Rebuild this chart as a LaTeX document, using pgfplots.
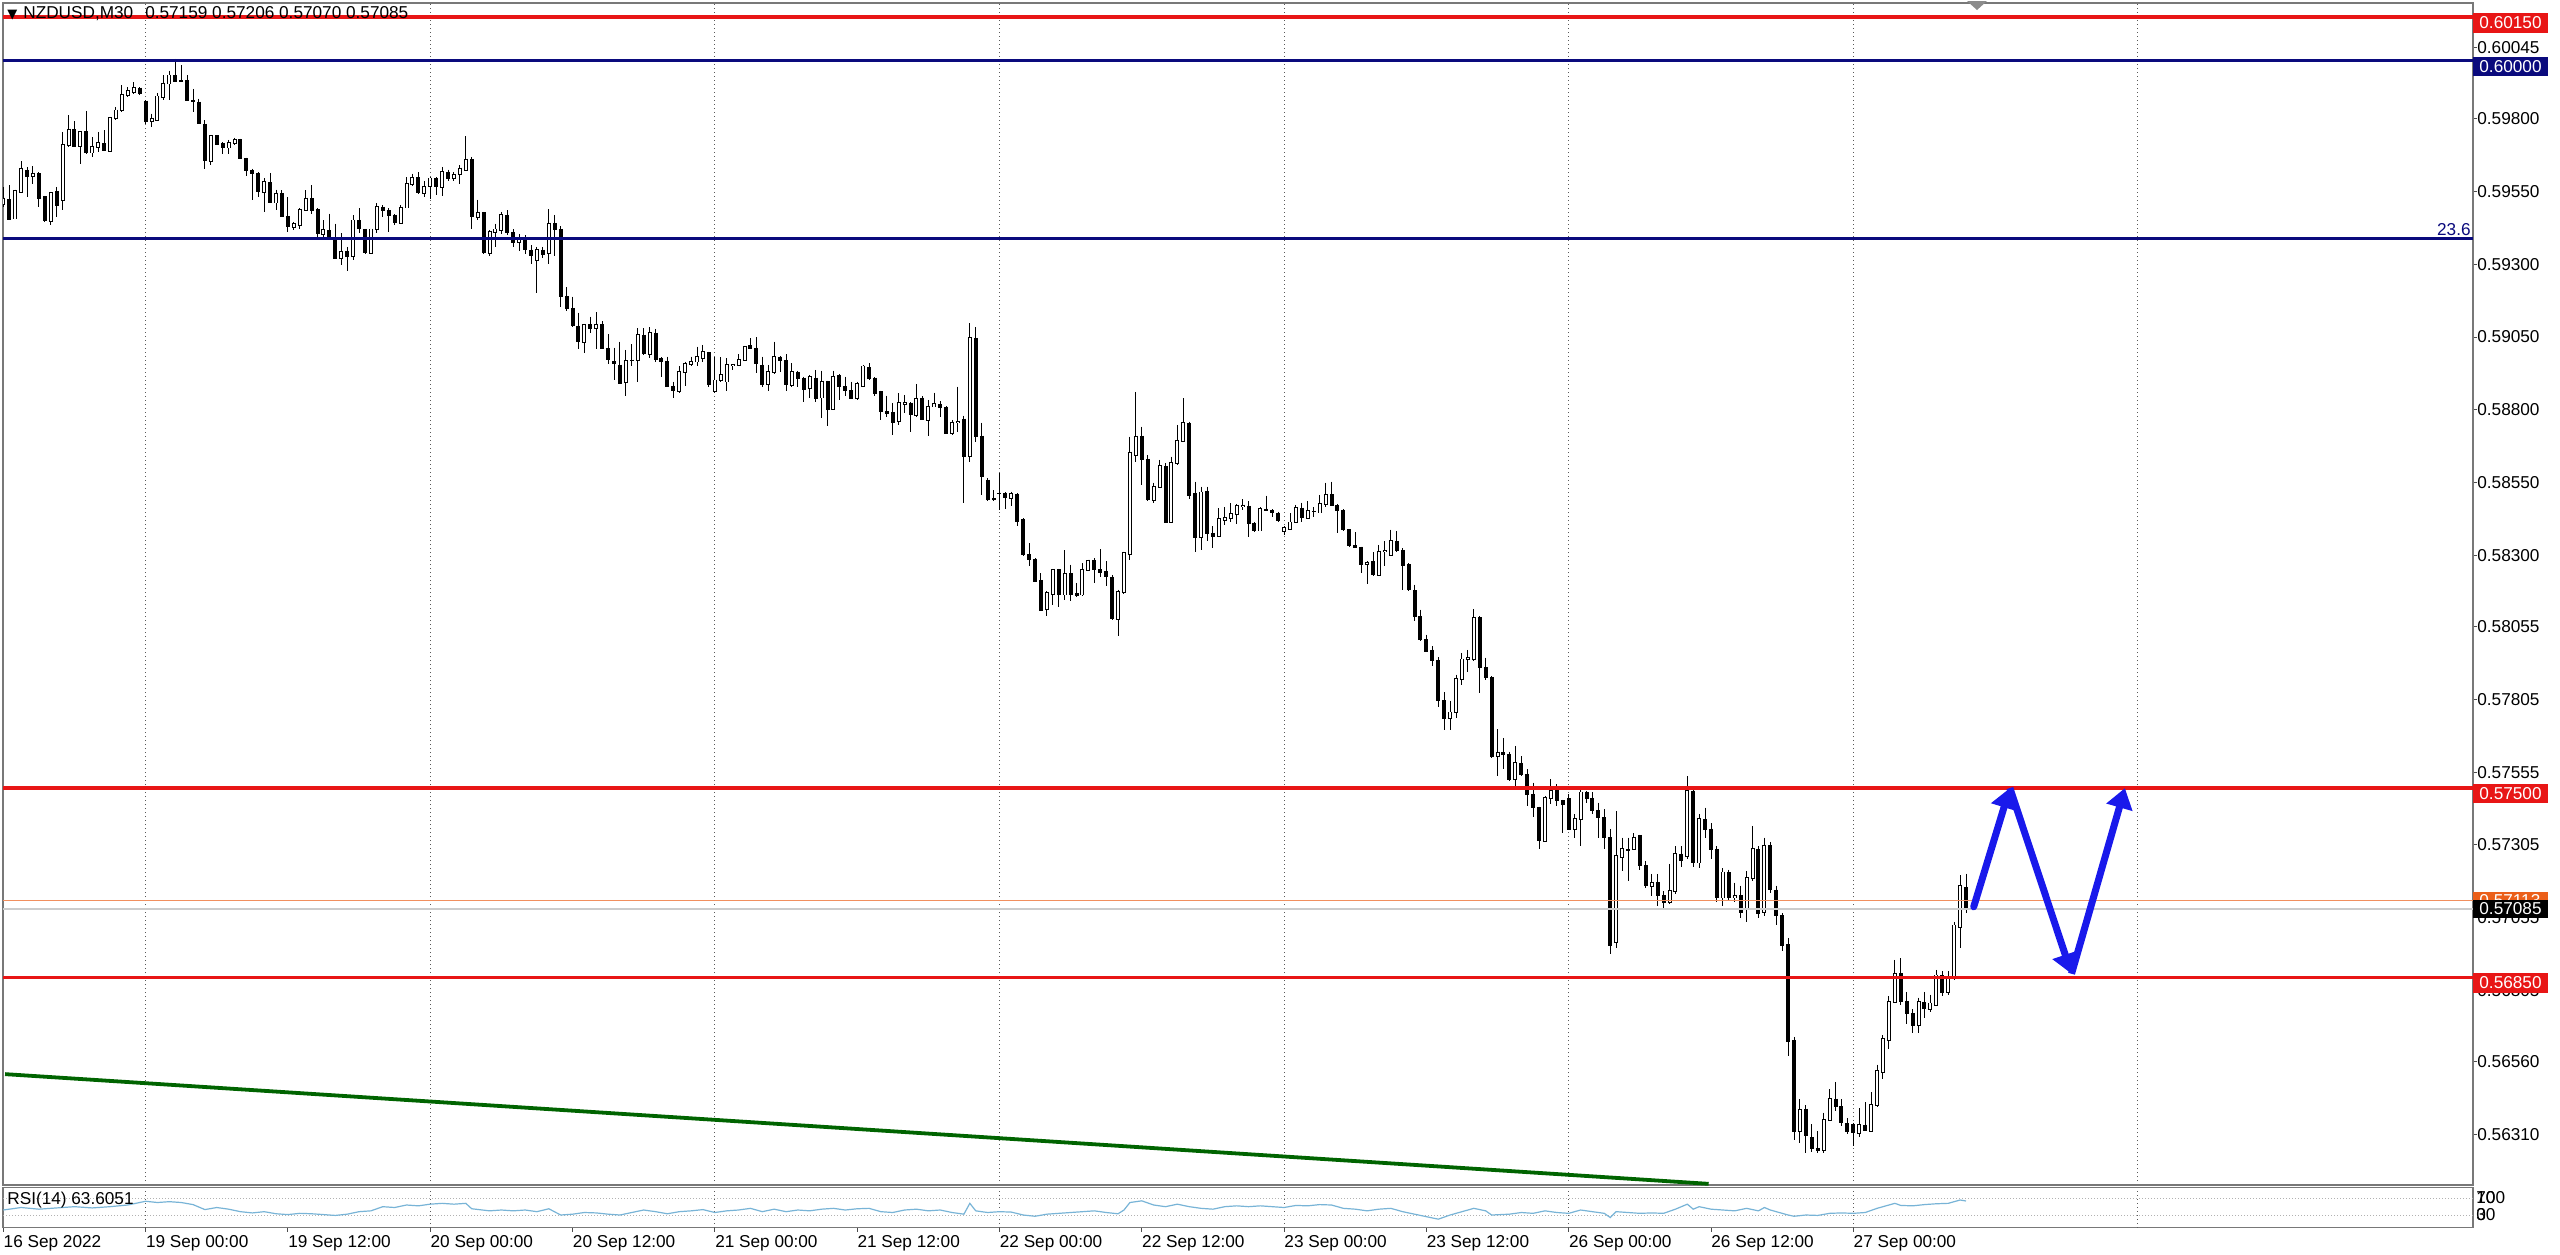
\documentclass[border=0pt]{standalone}
\usepackage{fontspec}
\setmainfont{Liberation Sans}
\newfontfamily\symf{DejaVu Sans}
\usepackage{pgfplots}
\usepackage{pgfplotstable}
\pgfplotsset{compat=1.18}
\usetikzlibrary{arrows.meta}

\definecolor{lvlred}{RGB}{232,22,22}
\definecolor{lvlnavy}{RGB}{10,10,125}
\definecolor{trendgreen}{RGB}{0,100,0}
\definecolor{arrowblue}{RGB}{25,25,235}
\definecolor{rsiblue}{RGB}{120,180,215}
\definecolor{askorange}{RGB}{235,95,25}
\definecolor{frame}{RGB}{120,120,120}

\newcommand\pf{\fontsize{8.6}{10}\selectfont}

% NZDUSD M30, bar index i (0 = 16 Sep 12:00), open high low close
\pgfplotstableread{
i o h l c
0 0.59506 0.59566 0.59497 0.59526
1 0.59522 0.59572 0.59451 0.59454
2 0.59457 0.59557 0.59455 0.59551
3 0.59549 0.59654 0.59545 0.59629
4 0.59623 0.59635 0.59532 0.59603
5 0.59603 0.59637 0.59577 0.59612
6 0.59612 0.59617 0.59497 0.59526
7 0.59532 0.59535 0.59446 0.59449
8 0.59449 0.59549 0.59434 0.59545
9 0.59549 0.59566 0.59463 0.59503
10 0.59520 0.59755 0.59488 0.59709
11 0.59709 0.59812 0.59703 0.59763
12 0.59763 0.59791 0.59703 0.59706
13 0.59706 0.59758 0.59646 0.59755
14 0.59757 0.59827 0.59680 0.59684
15 0.59684 0.59738 0.59669 0.59703
16 0.59703 0.59755 0.59686 0.59717
17 0.59715 0.59760 0.59688 0.59690
18 0.59690 0.59806 0.59686 0.59803
19 0.59804 0.59841 0.59795 0.59829
20 0.59829 0.59915 0.59823 0.59883
21 0.59881 0.59909 0.59875 0.59895
22 0.59892 0.59926 0.59886 0.59907
23 0.59906 0.59909 0.59881 0.59886
24 0.59861 0.59863 0.59783 0.59791
25 0.59791 0.59818 0.59772 0.59800
26 0.59795 0.59889 0.59792 0.59877
27 0.59875 0.59949 0.59863 0.59921
28 0.59921 0.59966 0.59863 0.59949
29 0.59949 0.60006 0.59926 0.59929
30 0.59931 0.59984 0.59926 0.59929
31 0.59932 0.59949 0.59861 0.59863
32 0.59863 0.59903 0.59823 0.59858
33 0.59858 0.59869 0.59781 0.59783
34 0.59781 0.59795 0.59629 0.59655
35 0.59655 0.59743 0.59640 0.59740
36 0.59742 0.59743 0.59709 0.59712
37 0.59715 0.59720 0.59680 0.59701
38 0.59701 0.59728 0.59680 0.59717
39 0.59717 0.59735 0.59711 0.59728
40 0.59728 0.59732 0.59661 0.59663
41 0.59663 0.59667 0.59603 0.59623
42 0.59621 0.59629 0.59520 0.59612
43 0.59612 0.59617 0.59532 0.59549
44 0.59549 0.59595 0.59480 0.59583
45 0.59581 0.59614 0.59509 0.59511
46 0.59512 0.59557 0.59486 0.59543
47 0.59543 0.59555 0.59461 0.59463
48 0.59463 0.59532 0.59412 0.59429
49 0.59429 0.59446 0.59417 0.59438
50 0.59434 0.59492 0.59420 0.59486
51 0.59486 0.59555 0.59484 0.59526
52 0.59526 0.59572 0.59474 0.59486
53 0.59488 0.59492 0.59394 0.59406
54 0.59404 0.59451 0.59394 0.59417
55 0.59417 0.59474 0.59386 0.59389
56 0.59391 0.59440 0.59318 0.59320
57 0.59320 0.59406 0.59297 0.59343
58 0.59343 0.59360 0.59278 0.59328
59 0.59328 0.59469 0.59314 0.59451
60 0.59451 0.59492 0.59408 0.59423
61 0.59420 0.59422 0.59335 0.59339
62 0.59339 0.59423 0.59335 0.59420
63 0.59420 0.59509 0.59406 0.59497
64 0.59497 0.59503 0.59463 0.59484
65 0.59484 0.59492 0.59412 0.59469
66 0.59469 0.59472 0.59434 0.59442
67 0.59442 0.59503 0.59440 0.59495
68 0.59495 0.59600 0.59492 0.59577
69 0.59577 0.59612 0.59568 0.59597
70 0.59597 0.59617 0.59543 0.59545
71 0.59545 0.59587 0.59532 0.59566
72 0.59568 0.59600 0.59526 0.59595
73 0.59595 0.59600 0.59537 0.59566
74 0.59566 0.59635 0.59534 0.59617
75 0.59617 0.59625 0.59587 0.59595
76 0.59595 0.59617 0.59587 0.59606
77 0.59609 0.59640 0.59575 0.59629
78 0.59625 0.59740 0.59623 0.59660
79 0.59660 0.59669 0.59421 0.59463
80 0.59463 0.59522 0.59451 0.59477
81 0.59477 0.59480 0.59337 0.59339
82 0.59339 0.59417 0.59328 0.59412
83 0.59412 0.59440 0.59360 0.59420
84 0.59417 0.59480 0.59405 0.59469
85 0.59469 0.59485 0.59400 0.59410
86 0.59410 0.59420 0.59360 0.59375
87 0.59375 0.59405 0.59345 0.59390
88 0.59390 0.59400 0.59335 0.59349
89 0.59349 0.59365 0.59300 0.59330
90 0.59315 0.59360 0.59203 0.59349
91 0.59349 0.59360 0.59320 0.59335
92 0.59338 0.59490 0.59300 0.59440
93 0.59440 0.59470 0.59330 0.59420
94 0.59420 0.59430 0.59155 0.59189
95 0.59189 0.59221 0.59140 0.59149
96 0.59149 0.59189 0.59086 0.59088
97 0.59088 0.59134 0.59008 0.59034
98 0.59034 0.59095 0.58994 0.59092
99 0.59092 0.59120 0.59063 0.59080
100 0.59080 0.59135 0.59008 0.59092
101 0.59092 0.59105 0.59009 0.59011
102 0.59011 0.59060 0.58958 0.58974
103 0.58966 0.59014 0.58901 0.58958
104 0.58954 0.59034 0.58888 0.58891
105 0.58894 0.59006 0.58848 0.58968
106 0.58971 0.59025 0.58949 0.58968
107 0.58971 0.59080 0.58897 0.59057
108 0.59057 0.59080 0.58990 0.58992
109 0.58992 0.59083 0.58977 0.59063
110 0.59063 0.59078 0.58966 0.58971
111 0.58977 0.58980 0.58914 0.58966
112 0.58966 0.58983 0.58878 0.58880
113 0.58882 0.58897 0.58840 0.58866
114 0.58863 0.58949 0.58859 0.58931
115 0.58931 0.58966 0.58882 0.58958
116 0.58958 0.58983 0.58951 0.58966
117 0.58966 0.59017 0.58951 0.58981
118 0.58977 0.59023 0.58966 0.58999
119 0.58997 0.59000 0.58880 0.58886
120 0.58863 0.58983 0.58859 0.58901
121 0.58901 0.58981 0.58897 0.58920
122 0.58897 0.58977 0.58863 0.58953
123 0.58953 0.58957 0.58937 0.58955
124 0.58953 0.58991 0.58951 0.58971
125 0.58971 0.59020 0.58969 0.59017
126 0.59020 0.59046 0.59009 0.59012
127 0.59012 0.59049 0.58926 0.58958
128 0.58954 0.58983 0.58880 0.58886
129 0.58888 0.58954 0.58863 0.58929
130 0.58929 0.59034 0.58923 0.58981
131 0.58981 0.58985 0.58931 0.58969
132 0.58968 0.58991 0.58866 0.58886
133 0.58886 0.58960 0.58878 0.58929
134 0.58929 0.58935 0.58880 0.58909
135 0.58909 0.58914 0.58828 0.58871
136 0.58874 0.58920 0.58840 0.58912
137 0.58909 0.58937 0.58828 0.58840
138 0.58842 0.58935 0.58771 0.58897
139 0.58897 0.58900 0.58745 0.58802
140 0.58802 0.58935 0.58800 0.58914
141 0.58917 0.58923 0.58834 0.58880
142 0.58880 0.58914 0.58846 0.58866
143 0.58866 0.58897 0.58838 0.58840
144 0.58840 0.58897 0.58834 0.58889
145 0.58882 0.58954 0.58880 0.58949
146 0.58945 0.58960 0.58903 0.58909
147 0.58909 0.58912 0.58846 0.58855
148 0.58863 0.58866 0.58765 0.58794
149 0.58794 0.58849 0.58777 0.58788
150 0.58791 0.58823 0.58714 0.58756
151 0.58760 0.58857 0.58748 0.58823
152 0.58820 0.58851 0.58788 0.58823
153 0.58823 0.58826 0.58725 0.58783
154 0.58783 0.58889 0.58777 0.58836
155 0.58840 0.58846 0.58765 0.58768
156 0.58765 0.58834 0.58711 0.58811
157 0.58811 0.58859 0.58809 0.58820
158 0.58817 0.58829 0.58777 0.58809
159 0.58809 0.58812 0.58717 0.58720
160 0.58720 0.58765 0.58714 0.58756
161 0.58756 0.58880 0.58725 0.58757
162 0.58768 0.58780 0.58480 0.58640
163 0.58640 0.59097 0.58620 0.59046
164 0.59046 0.59083 0.58690 0.58708
165 0.58710 0.58756 0.58508 0.58571
166 0.58559 0.58565 0.58488 0.58491
167 0.58494 0.58523 0.58485 0.58490
168 0.58514 0.58582 0.58456 0.58513
169 0.58513 0.58516 0.58459 0.58500
170 0.58496 0.58519 0.58468 0.58510
171 0.58510 0.58513 0.58401 0.58416
172 0.58422 0.58428 0.58296 0.58302
173 0.58302 0.58342 0.58262 0.58287
174 0.58287 0.58290 0.58208 0.58210
175 0.58214 0.58239 0.58107 0.58111
176 0.58115 0.58176 0.58090 0.58170
177 0.58168 0.58253 0.58130 0.58250
178 0.58250 0.58253 0.58122 0.58165
179 0.58165 0.58317 0.58147 0.58237
180 0.58237 0.58268 0.58142 0.58165
181 0.58168 0.58205 0.58158 0.58161
182 0.58165 0.58273 0.58161 0.58250
183 0.58250 0.58285 0.58245 0.58282
184 0.58282 0.58290 0.58205 0.58250
185 0.58250 0.58321 0.58227 0.58241
186 0.58245 0.58279 0.58193 0.58227
187 0.58225 0.58233 0.58078 0.58081
188 0.58081 0.58182 0.58024 0.58173
189 0.58173 0.58313 0.58168 0.58308
190 0.58305 0.58708 0.58285 0.58653
191 0.58645 0.58862 0.58619 0.58708
192 0.58710 0.58742 0.58542 0.58630
193 0.58630 0.58645 0.58488 0.58493
194 0.58491 0.58550 0.58479 0.58536
195 0.58534 0.58628 0.58531 0.58607
196 0.58605 0.58616 0.58410 0.58413
197 0.58413 0.58639 0.58411 0.58616
198 0.58616 0.58748 0.58611 0.58694
199 0.58694 0.58839 0.58691 0.58754
200 0.58754 0.58759 0.58493 0.58504
201 0.58511 0.58553 0.58313 0.58362
202 0.58362 0.58536 0.58319 0.58516
203 0.58519 0.58536 0.58348 0.58376
204 0.58376 0.58399 0.58325 0.58365
205 0.58365 0.58462 0.58362 0.58424
206 0.58422 0.58465 0.58405 0.58428
207 0.58428 0.58479 0.58416 0.58442
208 0.58442 0.58477 0.58408 0.58470
209 0.58470 0.58493 0.58456 0.58471
210 0.58468 0.58485 0.58362 0.58408
211 0.58408 0.58413 0.58380 0.58385
212 0.58385 0.58465 0.58382 0.58459
213 0.58459 0.58505 0.58451 0.58454
214 0.58454 0.58459 0.58433 0.58447
215 0.58445 0.58450 0.58416 0.58420
216 0.58382 0.58401 0.58370 0.58393
217 0.58390 0.58445 0.58388 0.58413
218 0.58413 0.58473 0.58411 0.58462
219 0.58462 0.58481 0.58413 0.58428
220 0.58428 0.58485 0.58424 0.58451
221 0.58451 0.58465 0.58431 0.58450
222 0.58447 0.58508 0.58445 0.58477
223 0.58477 0.58550 0.58465 0.58508
224 0.58508 0.58553 0.58468 0.58470
225 0.58470 0.58477 0.58376 0.58454
226 0.58454 0.58459 0.58383 0.58388
227 0.58388 0.58390 0.58328 0.58333
228 0.58333 0.58379 0.58325 0.58328
229 0.58328 0.58330 0.58239 0.58268
230 0.58271 0.58279 0.58202 0.58275
231 0.58279 0.58310 0.58230 0.58233
232 0.58233 0.58336 0.58230 0.58313
233 0.58313 0.58348 0.58262 0.58314
234 0.58302 0.58388 0.58298 0.58348
235 0.58348 0.58382 0.58313 0.58317
236 0.58317 0.58325 0.58182 0.58264
237 0.58268 0.58273 0.58177 0.58182
238 0.58179 0.58199 0.58073 0.58090
239 0.58090 0.58113 0.58004 0.58010
240 0.58010 0.58027 0.57967 0.57970
241 0.57974 0.57987 0.57919 0.57939
242 0.57939 0.57950 0.57780 0.57800
243 0.57800 0.57830 0.57700 0.57740
244 0.57740 0.57800 0.57700 0.57760
245 0.57760 0.57890 0.57740 0.57876
246 0.57876 0.57965 0.57856 0.57942
247 0.57942 0.57975 0.57900 0.57948
248 0.57942 0.58114 0.57936 0.58085
249 0.58085 0.58091 0.57828 0.57914
250 0.57914 0.57948 0.57870 0.57880
251 0.57880 0.57885 0.57605 0.57610
252 0.57610 0.57702 0.57542 0.57622
253 0.57622 0.57673 0.57565 0.57616
254 0.57616 0.57625 0.57525 0.57530
255 0.57530 0.57645 0.57507 0.57585
256 0.57585 0.57610 0.57542 0.57548
257 0.57548 0.57565 0.57439 0.57479
258 0.57479 0.57519 0.57399 0.57433
259 0.57433 0.57436 0.57290 0.57319
260 0.57319 0.57473 0.57315 0.57467
261 0.57467 0.57530 0.57445 0.57490
262 0.57496 0.57513 0.57439 0.57456
263 0.57456 0.57460 0.57347 0.57445
264 0.57464 0.57479 0.57356 0.57359
265 0.57359 0.57410 0.57330 0.57393
266 0.57393 0.57502 0.57302 0.57485
267 0.57485 0.57490 0.57450 0.57465
268 0.57465 0.57485 0.57410 0.57422
269 0.57422 0.57450 0.57330 0.57399
270 0.57399 0.57428 0.57290 0.57330
271 0.57330 0.57360 0.56930 0.56958
272 0.56970 0.57420 0.56950 0.57267
273 0.57262 0.57330 0.57215 0.57290
274 0.57290 0.57330 0.57180 0.57285
275 0.57290 0.57345 0.57288 0.57330
276 0.57338 0.57340 0.57220 0.57233
277 0.57233 0.57250 0.57155 0.57164
278 0.57164 0.57205 0.57130 0.57175
279 0.57175 0.57205 0.57095 0.57130
280 0.57130 0.57145 0.57080 0.57107
281 0.57107 0.57240 0.57100 0.57147
282 0.57147 0.57300 0.57135 0.57273
283 0.57273 0.57300 0.57230 0.57251
284 0.57267 0.57540 0.57258 0.57490
285 0.57490 0.57500 0.57230 0.57244
286 0.57244 0.57410 0.57225 0.57393
287 0.57393 0.57433 0.57330 0.57359
288 0.57359 0.57380 0.57255 0.57290
289 0.57290 0.57300 0.57110 0.57124
290 0.57124 0.57225 0.57095 0.57210
291 0.57210 0.57220 0.57115 0.57124
292 0.57124 0.57175 0.57110 0.57130
293 0.57130 0.57165 0.57055 0.57073
294 0.57085 0.57215 0.57040 0.57190
295 0.57190 0.57370 0.57180 0.57290
296 0.57290 0.57300 0.57055 0.57070
297 0.57073 0.57330 0.57060 0.57302
298 0.57302 0.57315 0.57140 0.57150
299 0.57150 0.57165 0.57030 0.57062
300 0.57062 0.57070 0.56940 0.56958
301 0.56962 0.56985 0.56580 0.56628
302 0.56633 0.56645 0.56290 0.56321
303 0.56321 0.56430 0.56280 0.56393
304 0.56397 0.56410 0.56245 0.56305
305 0.56298 0.56345 0.56250 0.56262
306 0.56262 0.56320 0.56245 0.56256
307 0.56256 0.56385 0.56245 0.56359
308 0.56359 0.56465 0.56355 0.56431
309 0.56431 0.56490 0.56390 0.56405
310 0.56405 0.56430 0.56340 0.56351
311 0.56347 0.56365 0.56310 0.56319
312 0.56344 0.56350 0.56270 0.56316
313 0.56316 0.56400 0.56300 0.56342
314 0.56342 0.56420 0.56320 0.56324
315 0.56321 0.56455 0.56318 0.56410
316 0.56410 0.56550 0.56405 0.56527
317 0.56525 0.56650 0.56500 0.56637
318 0.56633 0.56785 0.56605 0.56765
319 0.56765 0.56910 0.56762 0.56862
320 0.56862 0.56915 0.56755 0.56767
321 0.56767 0.56800 0.56690 0.56725
322 0.56725 0.56740 0.56660 0.56683
323 0.56685 0.56780 0.56660 0.56765
324 0.56763 0.56800 0.56710 0.56742
325 0.56742 0.56790 0.56730 0.56760
326 0.56753 0.56875 0.56750 0.56856
327 0.56856 0.56870 0.56785 0.56799
328 0.56799 0.56870 0.56790 0.56850
329 0.56850 0.57040 0.56840 0.57028
330 0.57022 0.57200 0.56950 0.57165
331 0.57159 0.57206 0.57070 0.57085
}\candles

% RSI(14)
\pgfplotstableread{
i r
0 42
3 48
6 44
9 47
12 50
15 47
18 50
21 54
24 63
26 60
28 62
30 60
32 55
34 43
36 48
38 44
40 38
42 35
44 38
46 33
48 31
50 34
52 33
54 31
56 29
58 32
60 38
62 40
64 50
66 48
68 54
70 52
72 56
74 58
76 56
78 58
79 45
82 40
84 42
86 40
88 42
90 38
92 45
94 30
96 32
98 36
100 35
102 32
104 30
106 36
108 42
110 38
112 33
114 38
116 40
118 43
120 36
122 40
124 42
126 46
128 38
130 44
132 38
134 42
136 40
138 44
140 46
142 42
144 45
146 46
148 38
150 36
152 42
154 44
156 40
158 42
160 36
162 32
163 58
164 40
166 36
168 38
170 37
172 30
174 27
176 32
178 34
180 36
184 40
186 36
188 33
189 42
190 60
192 64
194 54
196 50
198 56
200 50
202 46
204 44
206 50
208 52
210 50
212 52
214 50
216 48
218 53
220 52
222 55
224 54
226 46
228 44
230 40
232 44
234 46
236 38
238 32
240 26
242 20
244 30
246 38
248 46
250 40
251 30
254 32
256 36
258 34
260 40
262 36
264 34
266 42
268 38
270 34
271 24
272 38
274 36
276 34
278 35
280 34
282 44
284 56
285 44
286 50
288 44
290 42
292 40
294 46
296 40
297 48
298 42
300 34
301 30
302 27
304 30
306 29
308 34
310 35
312 34
314 36
316 46
318 54
319 58
320 53
322 52
324 55
326 57
328 58
329 62
330 66
331 63.6
}\rsi

\begin{document}
\begin{tikzpicture}
\fill[white] (0,0) rectangle (1280pt,-627pt);
\useasboundingbox (0,0) rectangle (1280pt,-627pt);

% ---------------- price panel ----------------
\begin{axis}[
  at={(1.5pt,-1.5pt)}, anchor=north west,
  width=1235pt, height=591pt, scale only axis,
  xmin=-0.05, xmax=416.5, ymin=0.56136, ymax=0.60198,
  axis line style={draw=frame, line width=0.6pt},
  xtick={24,72,...,360}, xticklabels={}, xmajorgrids,
  major x tick style={draw=none},
  x grid style={black!65, dash pattern=on 0.5pt off 1.5pt, line width=0.5pt},
  scaled y ticks=false,
  ytick={0.56310,0.56560,0.56805,0.57055,0.57305,0.57555,0.57805,0.58055,0.58300,0.58550,0.58800,0.59050,0.59300,0.59550,0.59800,0.60045},
  yticklabels={0.56310,0.56560,0.56805,0.57055,0.57305,0.57555,0.57805,0.58055,0.58300,0.58550,0.58800,0.59050,0.59300,0.59550,0.59800,0.60045},
  ytick pos=right, yticklabel pos=right,
  tick align=outside, major tick length=2pt,
  major y tick style={black!70, line width=0.5pt},
  yticklabel style={font=\pf, anchor=west, inner sep=0pt},
]
% wicks
\addplot[draw=none, mark=none, forget plot,
  error bars/.cd, y dir=minus, y explicit, error mark=none,
  error bar style={draw=black, line width=0.5pt}]
  table[x=i, y=h, y error minus expr=\thisrow{h}-\thisrow{l}] {\candles};
% falling bars: solid black (rising ones parked under the axis, length 0)
\addplot[draw=none, mark=none, forget plot,
  error bars/.cd, y dir=minus, y explicit, error mark=none,
  error bar style={draw=black, line width=2pt}]
  table[x=i, y expr={\thisrow{c}<\thisrow{o} ? \thisrow{o}+0.000015 : 0.559},
        y error minus expr={\thisrow{c}<\thisrow{o} ? \thisrow{o}-\thisrow{c}+0.00003 : 0}] {\candles};
% rising bars: black outline, white inside
\addplot[draw=none, mark=none, forget plot,
  error bars/.cd, y dir=minus, y explicit, error mark=none,
  error bar style={draw=black, line width=2pt}]
  table[x=i, y expr={\thisrow{c}<\thisrow{o} ? 0.559 : \thisrow{c}+0.00003},
        y error minus expr={\thisrow{c}<\thisrow{o} ? 0 : \thisrow{c}-\thisrow{o}+0.00006}] {\candles};
\addplot[draw=none, mark=none, forget plot,
  error bars/.cd, y dir=minus, y explicit, error mark=none,
  error bar style={draw=white, line width=1pt}]
  table[x=i, y expr={\thisrow{c}<\thisrow{o} ? 0.559 : \thisrow{c}},
        y error minus expr={\thisrow{c}<\thisrow{o} ? 0 : \thisrow{c}-\thisrow{o}}] {\candles};

% levels
\addplot[lvlred, line width=1.7pt] coordinates {(-1,0.6015)(420,0.6015)};
\addplot[lvlnavy, line width=1.5pt] coordinates {(-1,0.6000)(420,0.6000)};
\addplot[lvlnavy, line width=1.5pt] coordinates {(-1,0.59387)(420,0.59387)};
\addplot[lvlred, line width=1.7pt] coordinates {(-1,0.5750)(420,0.5750)};
\addplot[lvlred, line width=1.7pt] coordinates {(-1,0.5685)(420,0.5685)};
\addplot[black!20, line width=0.8pt] coordinates {(-1,0.57085)(420,0.57085)};
\addplot[askorange!70, line width=0.5pt] coordinates {(-1,0.57113)(420,0.57113)};

% trend line
\addplot[trendgreen, line width=1.9pt] coordinates {(0.3,0.56517)(287.6,0.56140)};

% projected path
\addplot[arrowblue, line width=3.5pt, line cap=round, -{Triangle[width=13pt,length=10pt]}]
  coordinates {(332.3,0.57092)(338.4,0.57500)};
\addplot[arrowblue, line width=3.5pt, -{Triangle[width=13pt,length=10pt]}]
  coordinates {(338.4,0.57500)(348.8,0.56862)};
\addplot[arrowblue, line width=3.5pt, -{Triangle[width=13pt,length=10pt]}]
  coordinates {(348.8,0.56862)(357.8,0.57500)};
\end{axis}

% ---------------- RSI panel ----------------
\begin{axis}[
  at={(1.5pt,-593.75pt)}, anchor=north west,
  width=1235pt, height=20pt, scale only axis,
  xmin=-0.05, xmax=416.5, ymin=0, ymax=96,
  axis line style={draw=frame, line width=0.6pt},
  ytick=\empty,
  xtick={0,24,...,312},
  xticklabels={16 Sep 2022,19 Sep 00:00,19 Sep 12:00,20 Sep 00:00,20 Sep 12:00,21 Sep 00:00,21 Sep 12:00,22 Sep 00:00,22 Sep 12:00,23 Sep 00:00,23 Sep 12:00,26 Sep 00:00,26 Sep 12:00,27 Sep 00:00},
  xtick pos=bottom, tick align=outside, major tick length=2pt,
  major x tick style={black!70, line width=0.5pt},
  xticklabel style={font=\pf, anchor=north west, inner sep=0pt, yshift=-2pt},
  extra x ticks={24,72,...,360}, extra x tick labels={},
  extra x tick style={xmajorgrids=true, major tick length=0pt},
  x grid style={black!65, dash pattern=on 0.5pt off 1.5pt, line width=0.5pt},
]
\addplot[black!30, dash pattern=on 0.5pt off 1pt, line width=0.4pt] coordinates {(-1,70)(420,70)};
\addplot[black!30, dash pattern=on 0.5pt off 1pt, line width=0.4pt] coordinates {(-1,30)(420,30)};
\addplot[rsiblue, line width=0.6pt] table[x=i, y=r] {\rsi};
\end{axis}

% ---------------- texts and price tags ----------------
\node[anchor=west, font=\pf, inner sep=0pt] at (3.5pt,-7pt)
  {{\symf\fontsize{6.5}{7}\selectfont ▼}\hspace{3pt}NZDUSD,M30\hspace{6pt}0.57159 0.57206 0.57070 0.57085};
\fill[black!45] (983.5pt,-0.5pt) -- (993.5pt,-0.5pt) -- (988.5pt,-5pt) -- cycle;
\node[anchor=south east, font=\pf, text=lvlnavy, inner sep=0pt] at (1235.5pt,-118pt) {23.6};
\node[anchor=west, font=\pf, inner sep=0pt] at (3.5pt,-600pt) {RSI(14) 63.6051};

\node[anchor=west, font=\pf, inner sep=0pt] at (1238pt,-599pt) {100};
\node[anchor=west, font=\pf, inner sep=0pt] at (1238pt,-599pt) {70};
\node[anchor=west, font=\pf, inner sep=0pt] at (1238pt,-607.5pt) {30};
\node[anchor=west, font=\pf, inner sep=0pt] at (1238pt,-607.5pt) {0};

\fill[lvlred] (1236.5pt,-6.5pt) rectangle (1274pt,-16.5pt);
\node[anchor=west, font=\pf, text=white, inner sep=0pt] at (1239.5pt,-11.5pt) {0.60150};
\fill[lvlnavy] (1236.5pt,-28.5pt) rectangle (1274pt,-38pt);
\node[anchor=west, font=\pf, text=white, inner sep=0pt] at (1239.5pt,-33.25pt) {0.60000};
\fill[lvlred] (1236.5pt,-392pt) rectangle (1274pt,-401.5pt);
\node[anchor=west, font=\pf, text=white, inner sep=0pt] at (1239.5pt,-396.75pt) {0.57500};
\fill[askorange] (1236.5pt,-446pt) rectangle (1274pt,-455pt);
\node[anchor=west, font=\pf, text=white, inner sep=0pt] at (1239.5pt,-450.5pt) {0.57113};
\fill[black] (1236.5pt,-450pt) rectangle (1274pt,-459pt);
\node[anchor=west, font=\pf, text=white, inner sep=0pt] at (1239.5pt,-454.5pt) {0.57085};
\fill[lvlred] (1236.5pt,-486.5pt) rectangle (1274pt,-496.5pt);
\node[anchor=west, font=\pf, text=white, inner sep=0pt] at (1239.5pt,-491.5pt) {0.56850};
\end{tikzpicture}
\end{document}
